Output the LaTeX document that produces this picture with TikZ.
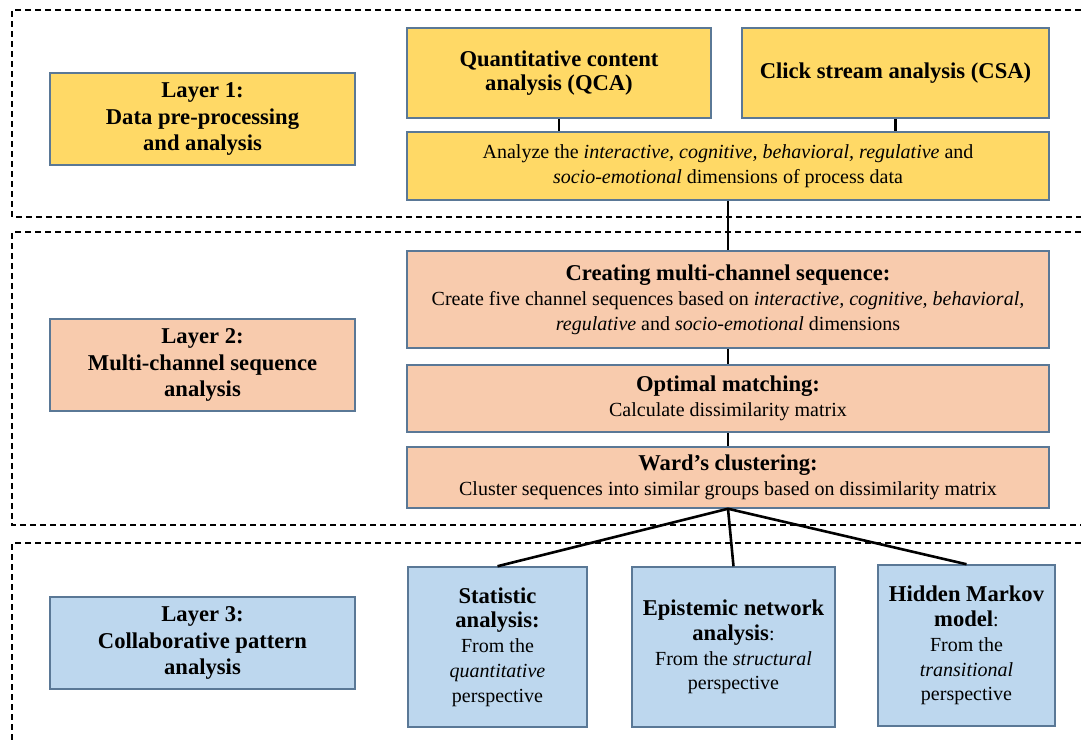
\documentclass[tikz,border=0pt]{standalone}
\usepackage{fontspec}
\setmainfont{Liberation Serif}[BoldFont={Liberation Serif Bold},ItalicFont={Liberation Serif Italic},BoldItalicFont={Liberation Serif Bold Italic}]
\definecolor{boxline}{RGB}{90,120,150}
\definecolor{layeryellow}{HTML}{FFD966}
\definecolor{layerorange}{HTML}{F8CBAD}
\definecolor{layerblue}{HTML}{BDD7EE}
\newcommand{\boxhead}[1]{{\fontsize{11.3}{12.4}\selectfont\bfseries #1}}
\begin{document}
\begin{tikzpicture}[x=0.5pt,y=-0.5pt,
        box/.style={draw=boxline,line width=0.75pt,align=center,inner sep=2pt,
            font=\fontsize{10}{12.4}\selectfont},
        layerbox/.style={box,minimum width=152.5pt,minimum height=46pt,
            font=\fontsize{11.3}{13.4}\selectfont\bfseries},
        frame/.style={dash pattern=on 3pt off 2pt,line width=0.6pt},
        link/.style={line width=1.3pt}]
    \useasboundingbox (0,0) rectangle (1081,740);
    % dashed layer frames
    \draw[frame] (1081,10) -- (12,10) -- (12,217) -- (1081,217);
    \draw[frame] (1081,232) -- (12,232) -- (12,525) -- (1081,525);
    \draw[frame] (1081,543) -- (12,543) -- (12,740);
    % layer 1
    \node[layerbox,fill=layeryellow] (layer1) at (202.5,119) {Layer 1:\\Data pre-processing\\and analysis};
    \node[box,fill=layeryellow,minimum width=152pt,minimum height=45pt,
        font=\fontsize{11.3}{12.4}\selectfont\bfseries] (qca) at (559,73)
        {Quantitative content\\analysis (QCA)};
    \node[box,fill=layeryellow,minimum width=153.5pt,minimum height=45pt,
        font=\fontsize{11.3}{12.4}\selectfont\bfseries] (csa) at (895.5,73)
        {Click stream analysis (CSA)};
    \node[box,fill=layeryellow,minimum width=321pt,minimum height=34pt] (analyze) at (728,166)
        {Analyze the \textit{interactive, cognitive, behavioral, regulative} and\\
         \textit{socio-emotional} dimensions of process data};
    % layer 2
    \node[layerbox,fill=layerorange] (layer2) at (202.5,365) {Layer 2:\\Multi-channel sequence\\analysis};
    \node[box,fill=layerorange,minimum width=321pt,minimum height=48.5pt] (creating) at (728,299.5)
        {\boxhead{Creating multi-channel sequence:}\\
         Create five channel sequences based on \textit{interactive, cognitive, behavioral,}\\
         \textit{regulative} and \textit{socio-emotional} dimensions};
    \node[box,fill=layerorange,minimum width=321pt,minimum height=33.5pt] (matching) at (728,398.5)
        {\boxhead{Optimal matching:}\\Calculate dissimilarity matrix};
    \node[box,fill=layerorange,minimum width=321pt,minimum height=30.5pt] (ward) at (728,477.5)
        {\boxhead{Ward's clustering:}\\Cluster sequences into similar groups based on dissimilarity matrix};
    % layer 3
    \node[layerbox,fill=layerblue] (layer3) at (202.5,643) {Layer 3:\\Collaborative pattern\\analysis};
    \node[box,fill=layerblue,minimum width=89.5pt,minimum height=80pt] (stat) at (497.5,647)
        {\boxhead{Statistic}\\\boxhead{analysis:}\\From the\\\textit{quantitative}\\perspective};
    \node[box,fill=layerblue,minimum width=101.5pt,minimum height=80pt] (ena) at (733.5,647)
        {\boxhead{Epistemic network}\\\boxhead{analysis}:\\From the \textit{structural}\\perspective};
    \node[box,fill=layerblue,minimum width=88.5pt,minimum height=80.5pt] (hmm) at (966.5,645.5)
        {\boxhead{Hidden Markov}\\\boxhead{model}:\\From the\\\textit{transitional}\\perspective};
    % connectors
    \draw[link] (qca.south) -- (qca.south |- analyze.north);
    \draw[link] (csa.south) -- (csa.south |- analyze.north);
    \draw[link] (analyze) -- (creating);
    \draw[link] (creating) -- (matching);
    \draw[link] (matching) -- (ward);
    \foreach \n in {stat,ena,hmm}
        \draw[link] (ward.south) -- (\n.north);
\end{tikzpicture}
\end{document}
